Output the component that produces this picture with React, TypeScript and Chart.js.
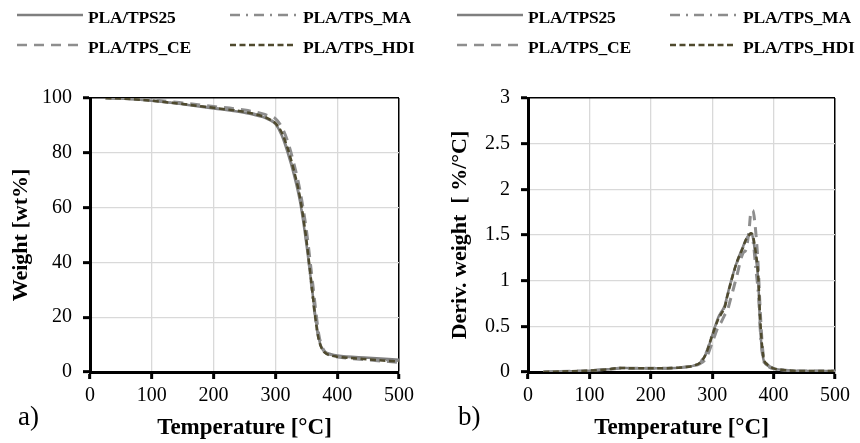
import React, { useEffect, useRef } from 'react';
import { Chart, registerables } from 'chart.js';
Chart.register(...registerables);

// ---------- DATA ----------
const seriesNames = ['PLA/TPS25', 'PLA/TPS_MA', 'PLA/TPS_CE', 'PLA/TPS_HDI'];

// TGA (weight %) vs temperature
const tgaTemps = [25, 50, 100, 150, 200, 250, 280, 290, 300, 310, 320, 330, 340, 350, 360, 365, 370, 375, 380, 390, 400, 450, 500];
const weightTPS25 = [100, 99.8, 99.0, 97.7, 96.2, 94.6, 93.0, 92.0, 90.5, 86.5, 80, 72, 62, 47, 29, 20, 12.5, 8.8, 7.4, 6.5, 6.0, 5.2, 4.5];
const weightMA = [100, 99.8, 99.1, 97.9, 96.5, 95.0, 93.4, 92.4, 90.8, 87, 81, 73, 63, 47, 27, 18, 11.5, 8.3, 7.0, 6.2, 5.8, 4.8, 4.0];
const weightCE = [100, 99.9, 99.3, 98.2, 96.9, 95.6, 94.2, 93.4, 92.5, 89.5, 84, 76, 66, 52, 33, 23, 14, 9.5, 7.4, 6.0, 5.5, 4.4, 3.5];
const weightHDI = [100, 99.8, 99.0, 97.8, 96.4, 94.9, 93.3, 92.3, 90.8, 87.5, 81.5, 73.5, 63.5, 48.5, 29, 19, 12, 8.6, 7.1, 6.0, 5.6, 4.6, 3.8];

// DTG (deriv. weight %/°C) vs temperature
const dtgTemps = [25, 50, 100, 130, 150, 170, 200, 250, 270, 280, 290, 300, 310, 315, 320, 325, 330, 340, 350, 355, 360, 363, 366, 370, 375, 378, 383, 390, 400, 420, 450, 500];
const derivTPS25 = [0, 0.005, 0.015, 0.03, 0.045, 0.04, 0.04, 0.05, 0.07, 0.1, 0.2, 0.4, 0.6, 0.66, 0.72, 0.85, 0.98, 1.2, 1.37, 1.45, 1.5, 1.52, 1.48, 1.3, 1.0, 0.5, 0.15, 0.07, 0.04, 0.02, 0.01, 0.01];
const derivMA = [0, 0.005, 0.015, 0.03, 0.045, 0.04, 0.04, 0.05, 0.07, 0.11, 0.22, 0.42, 0.58, 0.64, 0.7, 0.82, 0.96, 1.18, 1.35, 1.44, 1.5, 1.5, 1.42, 1.15, 0.8, 0.4, 0.12, 0.06, 0.03, 0.02, 0.01, 0.01];
const derivCE = [0, 0.005, 0.015, 0.03, 0.04, 0.04, 0.04, 0.05, 0.07, 0.09, 0.15, 0.32, 0.5, 0.55, 0.62, 0.68, 0.8, 1.05, 1.3, 1.34, 1.55, 1.75, 1.77, 1.6, 1.15, 0.7, 0.2, 0.08, 0.04, 0.02, 0.01, 0.01];
const derivHDI = [0, 0.005, 0.015, 0.03, 0.045, 0.04, 0.04, 0.05, 0.07, 0.1, 0.2, 0.4, 0.58, 0.64, 0.7, 0.84, 0.97, 1.2, 1.36, 1.45, 1.5, 1.52, 1.5, 1.35, 1.05, 0.6, 0.18, 0.08, 0.04, 0.02, 0.01, 0.01];

const xTicks = [0, 100, 200, 300, 400, 500];
const weightTicks = [0, 20, 40, 60, 80, 100];
const derivTicks = [0, 0.5, 1, 1.5, 2, 2.5, 3];

// ---------- STYLES ----------
const SERIF = "'Liberation Serif', 'Times New Roman', serif";
const lineStyles = [
  { color: '#7f7f7f', width: 2.5, dash: [] as number[], order: 3 },
  { color: '#8c8c8c', width: 2, dash: [10, 6, 2, 6], order: 2 },
  { color: '#8e8e8e', width: 3, dash: [10, 7], order: 1 },
  { color: '#4f4a2e', width: 2.5, dash: [6, 3.5], order: 0 },
];

function makeConfig(xs: number[], ys: number[][], yTicks: number[], yTitle: string, yWidth: number, padRight: number, titlePad: number) {
  const yMax = yTicks[yTicks.length - 1];
  const xMax = xTicks[xTicks.length - 1];
  return {
    type: 'line' as const,
    data: {
      datasets: ys.map((arr, i) => ({
        label: seriesNames[i],
        data: xs.map((x, j) => ({ x, y: arr[j] })),
        borderColor: lineStyles[i].color,
        borderWidth: lineStyles[i].width,
        borderDash: lineStyles[i].dash,
        order: lineStyles[i].order,
        pointRadius: 0,
        fill: false,
        cubicInterpolationMode: 'monotone' as const,
      })),
    },
    options: {
      responsive: false,
      animation: false as const,
      layout: { padding: { top: 98, right: padRight, left: 0, bottom: 0 } },
      plugins: { legend: { display: false }, tooltip: { enabled: false } },
      scales: {
        x: {
          type: 'linear' as const,
          min: xTicks[0],
          max: xMax,
          afterBuildTicks: (s: any) => { s.ticks = xTicks.map((v) => ({ value: v })); },
          afterFit: (s: any) => { s.height = 71; },
          grid: {
            color: (c: any) => (c.tick && c.tick.value === xMax ? '#000' : '#d9d9d9'),
            lineWidth: (c: any) => (c.tick && c.tick.value === xMax ? 1.5 : 1.3),
            tickColor: '#000',
            tickWidth: 3,
            tickLength: 7,
          },
          border: { color: '#000', width: 3 },
          ticks: { color: '#000', font: { family: SERIF, size: 20 }, padding: 5, maxRotation: 0, callback: (v: any) => String(v) },
          title: { display: true, text: 'Temperature [°C]', color: '#000', font: { family: SERIF, size: 23, weight: 'bold' as const, lineHeight: 1 }, padding: { top: 0, bottom: 3 } },
        },
        y: {
          type: 'linear' as const,
          min: yTicks[0],
          max: yMax,
          afterBuildTicks: (s: any) => { s.ticks = yTicks.map((v) => ({ value: v })); },
          afterFit: (s: any) => { s.width = yWidth; },
          grid: {
            color: (c: any) => (c.tick && c.tick.value === yMax ? '#000' : '#d9d9d9'),
            lineWidth: (c: any) => (c.tick && c.tick.value === yMax ? 1.5 : 1.3),
            tickColor: '#000',
            tickWidth: 3,
            tickLength: 7,
          },
          border: { color: '#000', width: 3 },
          ticks: { color: '#000', font: { family: SERIF, size: 20 }, padding: 11, callback: (v: any) => String(v) },
          title: { display: true, text: yTitle, color: '#000', font: { family: SERIF, size: 22, weight: 'bold' as const, lineHeight: 1 }, padding: { top: titlePad, bottom: 0 } },
        },
      },
    },
  };
}

function ChartCanvas(props: { cfg: any; left: number }) {
  const ref = useRef<HTMLCanvasElement>(null);
  useEffect(() => {
    if (!ref.current) return;
    const ch = new Chart(ref.current, props.cfg);
    return () => ch.destroy();
  }, []);
  return <canvas ref={ref} width={430} height={443} style={{ position: 'absolute', left: props.left, top: 0, width: 430, height: 443 }} />;
}

function LegendItem(props: { idx: number; x: number; y: number; textX: number }) {
  const st = lineStyles[props.idx];
  return (
    <>
      <svg style={{ position: 'absolute', left: props.x, top: props.y - 5, width: 66, height: 10 }} width={66} height={10}>
        <line x1={0} y1={5} x2={66} y2={5} stroke={st.color} strokeWidth={2.4} strokeDasharray={st.dash.length ? st.dash.join(' ') : undefined} />
      </svg>
      <div style={{ position: 'absolute', left: props.textX, top: props.y - 8, fontFamily: SERIF, fontWeight: 'bold', fontSize: 17.5, lineHeight: '20px', color: '#000', whiteSpace: 'nowrap', letterSpacing: '-0.2px' }}>
        {seriesNames[props.idx]}
      </div>
    </>
  );
}

function Legend(props: { dx: number }) {
  const d = props.dx;
  return (
    <>
      <LegendItem idx={0} x={17 + d} y={15} textX={88 + d} />
      <LegendItem idx={1} x={230 + d} y={15} textX={303 + d} />
      <LegendItem idx={2} x={17 + d} y={45} textX={88 + d} />
      <LegendItem idx={3} x={230 + d} y={45} textX={303 + d} />
    </>
  );
}

export default function App() {
  const leftCfg = makeConfig(tgaTemps, [weightTPS25, weightMA, weightCE, weightHDI], weightTicks, 'Weight [wt%]', 90, 31, 10);
  const rightCfg = makeConfig(dtgTemps, [derivTPS25, derivMA, derivCE, derivHDI], derivTicks, 'Deriv. weight  [ %/°C]', 98, 25, 19);
  return (
    <div style={{ position: 'fixed', left: 0, top: 0, width: 860, height: 443, background: '#fff', overflow: 'hidden' }}>
      <ChartCanvas cfg={leftCfg} left={0} />
      <ChartCanvas cfg={rightCfg} left={430} />
      <Legend dx={0} />
      <Legend dx={440} />
      <div style={{ position: 'absolute', left: 18, top: 400, fontFamily: SERIF, fontSize: 27, lineHeight: '32px', color: '#000' }}>a)</div>
      <div style={{ position: 'absolute', left: 458, top: 400, fontFamily: SERIF, fontSize: 27, lineHeight: '32px', color: '#000' }}>b)</div>
    </div>
  );
}
